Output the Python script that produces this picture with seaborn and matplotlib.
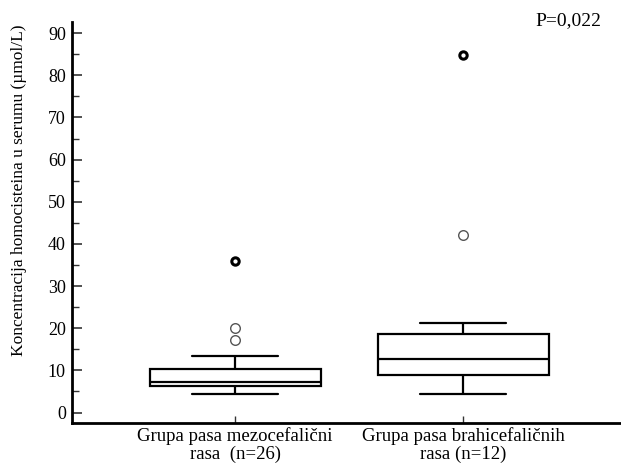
import numpy as np
import pandas as pd
import matplotlib
matplotlib.use("Agg")
import matplotlib.pyplot as plt
import seaborn as sns

# podaci po grupama (sortirane vrijednosti ocitane s grafa)
groups = ["Grupa pasa mezocefalični\nrasa  (n=26)", "Grupa pasa brahicefaličnih\nrasa (n=12)"]
meso = [4.4, 4.9, 5.3, 5.6, 5.8, 6.0, 6.2, 6.2, 6.4, 6.6, 6.8, 7.0, 7.2,
        7.5, 8.0, 8.6, 9.2, 9.8, 10.3, 10.3, 11.2, 12.3, 13.4, 17.2, 20.1, 36.0]
brahi = [4.4, 6.5, 8.9, 8.9, 10.5, 11.8, 13.4, 15.6, 17.83, 21.3, 42.2, 84.8]
p_text = "P=0,022"

df = pd.DataFrame({
    "grupa": [groups[0]] * len(meso) + [groups[1]] * len(brahi),
    "hcy": meso + brahi,
})

sns.set_style("ticks", {"axes.edgecolor": "black", "text.color": "black",
                        "xtick.color": "#333333", "ytick.color": "#333333"})
plt.rcParams["font.family"] = ["Liberation Serif", "DejaVu Serif"]

fig = plt.figure(figsize=(6.21, 4.72), dpi=100)
ax = fig.add_axes([0.116, 0.1045, 0.884, 0.8485])

lw = 1.6
sns.boxplot(data=df, x="grupa", y="hcy", order=groups, width=0.75,
            showfliers=False, whis=1.5, color="white", linecolor="black",
            linewidth=lw, ax=ax)

# outlieri: blagi (krug) i ekstremni (puni krug)
for i, vals in enumerate([meso, brahi]):
    v = np.array(vals)
    q1, q3 = np.percentile(v, [25, 75])
    iqr = q3 - q1
    mild = v[((v > q3 + 1.5 * iqr) & (v <= q3 + 3 * iqr)) | ((v < q1 - 1.5 * iqr) & (v >= q1 - 3 * iqr))]
    ext = v[(v > q3 + 3 * iqr) | (v < q1 - 3 * iqr)]
    ax.scatter([i] * len(mild), mild, s=48, facecolors="white", edgecolors="#555555",
               linewidths=1.0, zorder=5)
    ax.scatter([i] * len(ext), ext, s=28, facecolors="white", edgecolors="black",
               linewidths=2.2, zorder=5)

ax.set_xlim(-0.715, 1.693)
ax.set_ylim(-2.4, 92.6)
ax.set_yticks(range(0, 91, 10))
ax.set_yticks(range(5, 91, 10), minor=True)
ax.tick_params(axis="y", direction="in", length=7, width=1.2, pad=4.5, labelsize=13, labelcolor="black")
ax.tick_params(axis="y", which="minor", direction="in", length=5, width=1.0)
ax.tick_params(axis="x", direction="in", length=5, width=1.0, pad=3, labelsize=13.5, labelcolor="black")

ax.set_xlabel("")
ax.set_ylabel("Koncentracija homocisteina u serumu (µmol/L)", fontsize=12.5, color="black")
ax.yaxis.set_label_coords(-0.082, 0.581)
for lab in ax.get_xticklabels():
    lab.set_linespacing(1.1)

sns.despine(ax=ax)
ax.spines["left"].set_linewidth(2)
ax.spines["bottom"].set_linewidth(2)

fig.text(0.968, 0.975, p_text, ha="right", va="top", fontsize=14, color="black")

fig.savefig("out.png", dpi=100)
